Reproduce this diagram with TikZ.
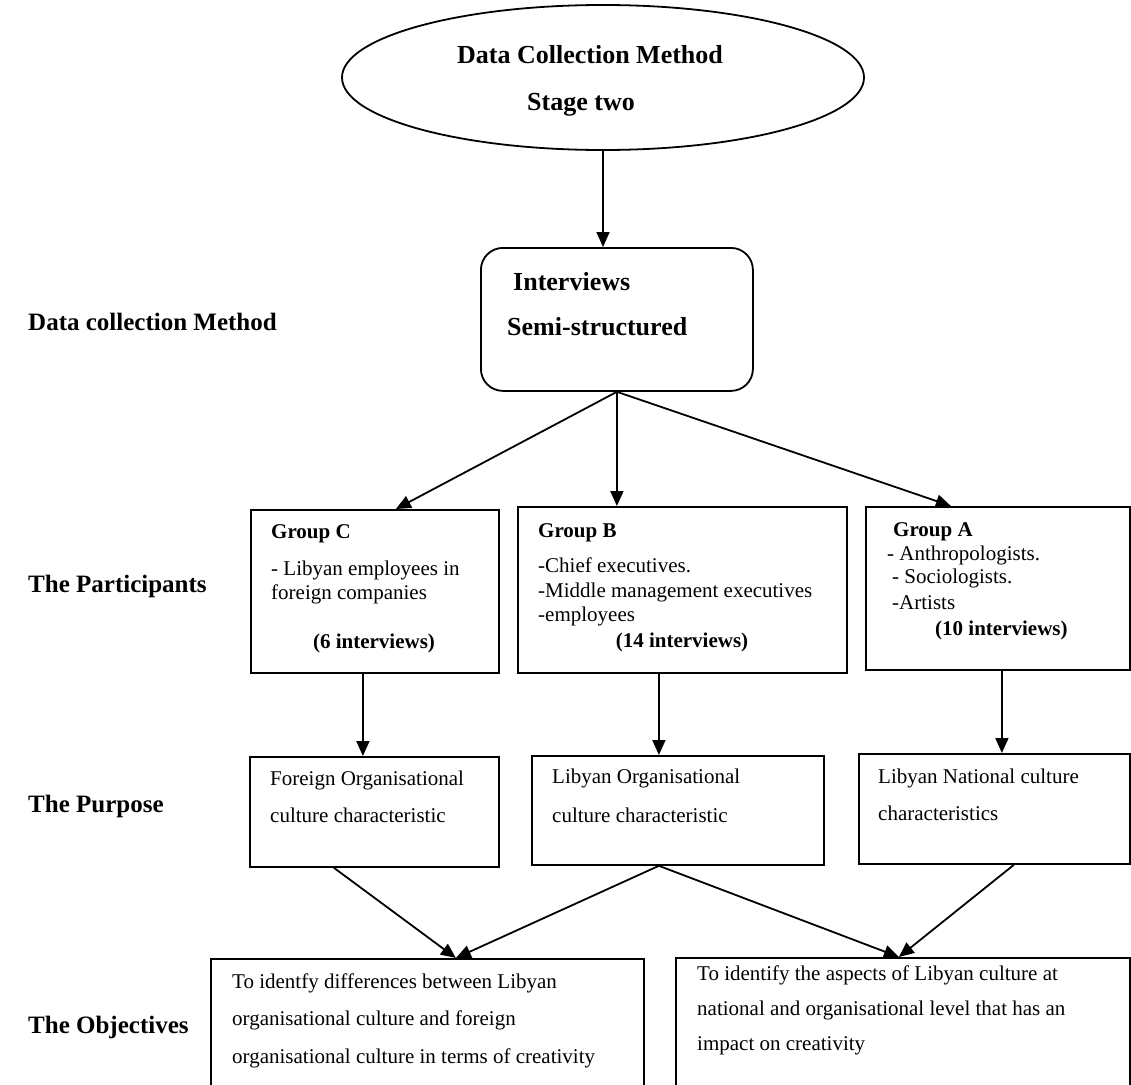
\documentclass[tikz,border=0pt]{standalone}
\usepackage{fontspec}
\setmainfont{Liberation Serif}
\usetikzlibrary{arrows.meta,shapes.geometric}
\begin{document}
\begin{tikzpicture}[x=1pt,y=-1pt,
  frame/.style={draw,line width=1.8pt,inner sep=0pt,anchor=north west},
  conn/.style={line width=1.8pt,-{Triangle[length=15pt,width=13pt]}},
  body/.style={font=\fontsize{21}{24}\selectfont,anchor=base west,inner sep=0pt},
  bbody/.style={body,font=\fontsize{21}{24}\selectfont\bfseries},
  head/.style={font=\fontsize{26}{30}\selectfont\bfseries,inner sep=0pt},
  side/.style={font=\fontsize{25}{30}\selectfont\bfseries,anchor=base west,inner sep=0pt}]
\clip (0,0) rectangle (1131,1084);
\fill[white] (0,0) rectangle (1131,1084);

% top: method ellipse
\node[draw,ellipse,line width=1.8pt,inner sep=0pt,minimum width=522,minimum height=145] (ell) at (603,77.5) {};
\node[head,anchor=base] (ellt1) at (590,63) {Data Collection Method};
\node[head,anchor=base] (ellt2) at (581,110) {Stage two};

% interviews
\node[frame,rounded corners=22,minimum width=272,minimum height=143] (intv) at (480,247) {};
\node[head,anchor=base west] (intvt1) at (513,290) {Interviews};
\node[head,anchor=base west] (intvt2) at (507,335) {Semi-structured};
\draw[conn] (ell.south) -- (intv.north -| ell.south);

% row labels
\node[side] (lab1) at (28,330) {Data collection Method};
\node[side] (lab2) at (28,592) {The Participants};
\node[side] (lab3) at (28,812) {The Purpose};
\node[side] (lab4) at (28,1033) {The Objectives};

% participant groups
\node[frame,minimum width=248,minimum height=163] (gc) at (250,509) {};
\node[frame,minimum width=329,minimum height=166] (gb) at (517,506) {};
\node[frame,minimum width=264,minimum height=163] (ga) at (865,506) {};

\node[bbody] (gct0) at (271,538) {Group C};
\node[body] (gct1) at (271,575) {- Libyan employees in};
\node[body] (gct2) at (271,599) {foreign companies};
\node[bbody,anchor=base] (gct3) at (374,648) {(6 interviews)};

\node[bbody] (gbt0) at (538,537) {Group B};
\node[body] (gbt1) at (538,572) {-Chief executives.};
\node[body] (gbt2) at (538,597) {-Middle management executives};
\node[body] (gbt3) at (538,621) {-employees};
\node[bbody,anchor=base] (gbt4) at (682,647) {(14 interviews)};

\node[bbody] (gat0) at (893,536) {Group A};
\node[body] (gat1) at (887,560) {- Anthropologists.};
\node[body] (gat2) at (892,583) {- Sociologists.};
\node[body] (gat3) at (892,609) {-Artists};
\node[bbody] (gat4) at (935,635) {(10 interviews)};

\draw[conn] (intv.south) -- ([xshift=21]gc.north);
\draw[conn] (intv.south) -- (intv.south |- gb.north);
\draw[conn] (intv.south) -- ([xshift=-47]ga.north);

% purposes
\node[frame,minimum width=249,minimum height=110] (pf) at (249,756) {};
\node[frame,minimum width=292,minimum height=109] (pl) at (531,755) {};
\node[frame,minimum width=271,minimum height=110] (pn) at (858,753) {};

\node[body] (pft1) at (270,785) {Foreign Organisational};
\node[body] (pft2) at (270,822) {culture characteristic};
\node[body] (plt1) at (552,783) {Libyan Organisational};
\node[body] (plt2) at (552,822) {culture characteristic};
\node[body] (pnt1) at (878,783) {Libyan National culture};
\node[body] (pnt2) at (878,820) {characteristics};

\coordinate (cdrop) at ([xshift=-12]gc.south);
\coordinate (bdrop) at ([xshift=-23.5]gb.south);
\coordinate (adrop) at ([xshift=4]ga.south);
\draw[conn] (cdrop) -- (cdrop |- pf.north);
\draw[conn] (bdrop) -- (bdrop |- pl.north);
\draw[conn] (adrop) -- (adrop |- pn.north);

% objectives
\node[frame,minimum width=433,minimum height=200] (ol) at (210,958) {};
\node[frame,minimum width=454,minimum height=200] (or) at (675,957) {};

\node[body] (olt1) at (232,988) {To identfy differences between Libyan};
\node[body] (olt2) at (232,1025) {organisational culture and foreign};
\node[body] (olt3) at (232,1063) {organisational culture in terms of creativity};
\node[body] (ort1) at (697,980) {To identify the aspects of Libyan culture at};
\node[body] (ort2) at (697,1015) {national and organisational level that has an};
\node[body] (ort3) at (697,1050) {impact on creativity};

\coordinate (fout) at ([xshift=-40.5]pf.south);
\coordinate (lout) at ([xshift=-19]pl.south);
\coordinate (nout) at ([xshift=19.5]pn.south);
\coordinate (olin) at ([xshift=28.5]ol.north);
\coordinate (orin) at ([xshift=-4]or.north);
\draw[conn] (fout) -- (olin);
\draw[conn] (lout) -- (olin);
\draw[conn] (lout) -- (orin);
\draw[conn] (nout) -- (orin);
\end{tikzpicture}
\end{document}
